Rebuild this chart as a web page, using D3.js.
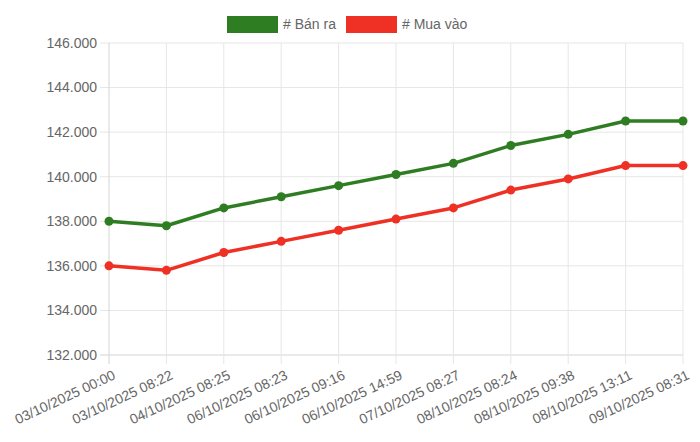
<!DOCTYPE html>
<html>
<head>
<meta charset="utf-8">
<script src="https://cdn.jsdelivr.net/npm/d3@7"></script>
<style>
  body { margin: 0; background: #fff; }
  text { font-family: "Liberation Sans", Arial, sans-serif; fill: #666; }
</style>
</head>
<body>
<div id="chart"></div>
<script>
var labels = ["03/10/2025 00:00", "03/10/2025 08:22", "04/10/2025 08:25", "06/10/2025 08:23",
  "06/10/2025 09:16", "06/10/2025 14:59", "07/10/2025 08:27", "08/10/2025 08:24",
  "08/10/2025 09:38", "08/10/2025 13:11", "09/10/2025 08:31"];
var banRa = [138000, 137800, 138600, 139100, 139600, 140100, 140600, 141400, 141900, 142500, 142500];
var muaVao = [136000, 135800, 136600, 137100, 137600, 138100, 138600, 139400, 139900, 140500, 140500];
var yTicks = [132000, 134000, 136000, 138000, 140000, 142000, 144000, 146000];

var width = 700, height = 442;
var plotLeft = 109, plotRight = 683, plotTop = 43, plotBottom = 355;

var series = [
  {name: "# Bán ra", color: "#2f7d22", values: banRa},
  {name: "# Mua vào", color: "#ee3124", values: muaVao}
];

var svg = d3.select("#chart")
  .append("svg")
    .attr("width", width)
    .attr("height", height);

var x = d3.scalePoint()
  .domain(labels)
  .range([plotLeft, plotRight]);

var y = d3.scaleLinear()
  .domain([132000, 146000])
  .range([plotBottom, plotTop]);

var fmt = function(v) { return d3.format(",")(v).replace(/,/g, "."); };

// grid
var grid = svg.append("g");
grid.selectAll(".hg")
  .data(yTicks)
  .enter().append("line")
    .attr("x1", plotLeft - 9)
    .attr("x2", plotRight)
    .attr("y1", function(d){ return y(d); })
    .attr("y2", function(d){ return y(d); })
    .attr("stroke", function(d){ return d === 132000 ? "#d4d4d4" : "#e6e6e6"; })
    .attr("stroke-width", 1);
grid.selectAll(".vg")
  .data(labels)
  .enter().append("line")
    .attr("x1", function(d){ return x(d); })
    .attr("x2", function(d){ return x(d); })
    .attr("y1", plotTop)
    .attr("y2", plotBottom + 9)
    .attr("stroke", function(d, i){ return i === 0 ? "#d4d4d4" : "#e6e6e6"; })
    .attr("stroke-width", 1);

// y labels
svg.append("g").selectAll("text")
  .data(yTicks)
  .enter().append("text")
    .attr("x", plotLeft - 12)
    .attr("y", function(d){ return y(d); })
    .attr("dy", "0.35em")
    .attr("text-anchor", "end")
    .style("font-size", "14px")
    .text(fmt);

// x labels
svg.append("g").selectAll("text")
  .data(labels)
  .enter().append("text")
    .attr("transform", function(d){ return "translate(" + (x(d) + 3) + "," + (plotBottom + 14) + ") rotate(-25)"; })
    .attr("dy", "0.75em")
    .attr("text-anchor", "end")
    .style("font-size", "14px")
    .text(function(d){ return d; });

// lines
var line = d3.line()
  .x(function(d, i){ return x(labels[i]); })
  .y(function(d){ return y(d); });

series.forEach(function(s) {
  var g = svg.append("g");
  g.append("path")
    .attr("d", line(s.values))
    .attr("fill", "none")
    .attr("stroke", s.color)
    .attr("stroke-width", 3.5)
    .attr("stroke-linejoin", "round");
  g.selectAll("circle")
    .data(s.values)
    .enter().append("circle")
      .attr("cx", function(d, i){ return x(labels[i]); })
      .attr("cy", function(d){ return y(d); })
      .attr("r", 4.5)
      .attr("fill", s.color);
});

// legend
var legendX = [227, 346];
var legend = svg.append("g").selectAll("g")
  .data(series)
  .enter().append("g")
    .attr("transform", function(d, i){ return "translate(" + legendX[i] + ",16)"; });
legend.append("rect")
  .attr("width", 51)
  .attr("height", 17)
  .attr("fill", function(d){ return d.color; });
legend.append("text")
  .attr("x", 56)
  .attr("y", 8.5)
  .attr("dy", "0.35em")
  .style("font-size", "14px")
  .text(function(d){ return d.name; });
</script>
</body>
</html>
